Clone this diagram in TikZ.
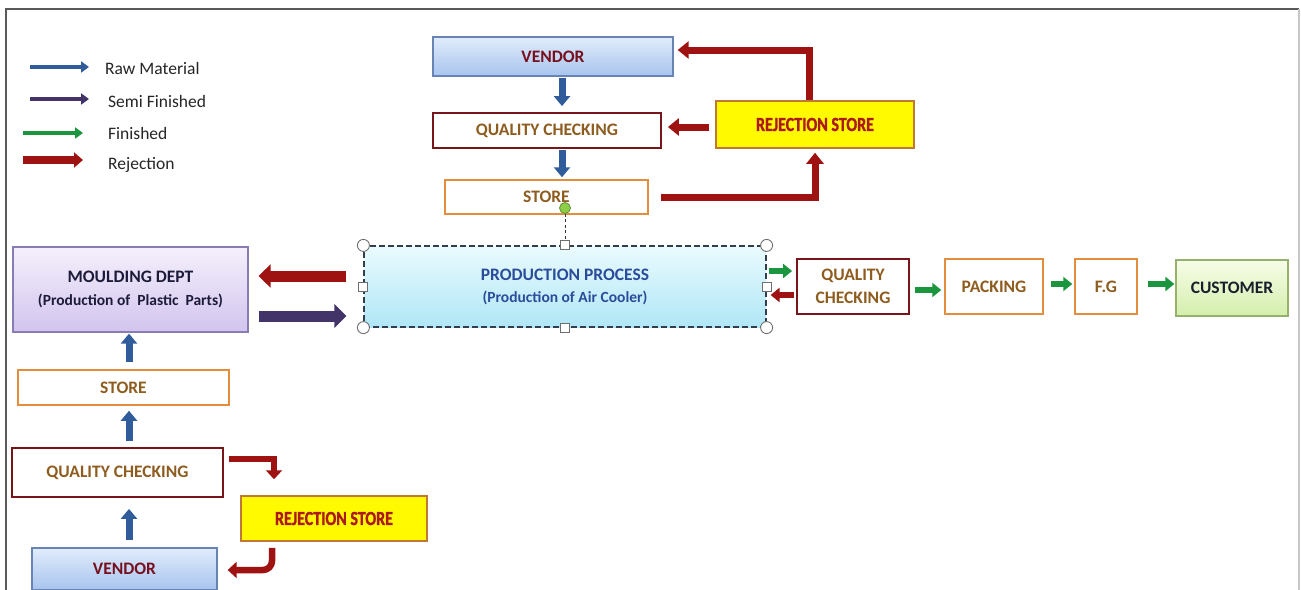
\documentclass[tikz,border=0pt]{standalone}
\usepackage{fontspec}
\setmainfont{Carlito}
\newfontfamily\condfont[FakeStretch=0.8,FakeBold=1.3]{Carlito}
\usetikzlibrary{arrows.meta,backgrounds}
\definecolor{rawblue}{RGB}{48,92,156}
\definecolor{semipurple}{RGB}{66,52,104}
\definecolor{fingreen}{RGB}{28,150,62}
\definecolor{rejred}{RGB}{158,18,18}
\definecolor{vtop}{RGB}{224,236,251}
\definecolor{vbot}{RGB}{168,196,238}
\definecolor{vline}{RGB}{104,132,180}
\definecolor{mtop}{RGB}{245,240,252}
\definecolor{mbot}{RGB}{210,196,238}
\definecolor{mline}{RGB}{136,124,178}
\definecolor{ptop}{RGB}{234,251,254}
\definecolor{pbot}{RGB}{176,230,246}
\definecolor{pline}{RGB}{50,62,78}
\definecolor{ctop}{RGB}{247,253,232}
\definecolor{cbot}{RGB}{212,238,172}
\definecolor{cline}{RGB}{150,178,106}
\definecolor{qcline}{RGB}{118,22,26}
\definecolor{stline}{RGB}{226,142,62}
\definecolor{brtext}{RGB}{142,92,30}
\definecolor{vtext}{RGB}{118,16,30}
\definecolor{rjtext}{RGB}{172,26,26}
\definecolor{rjfill}{RGB}{255,250,0}
\definecolor{navytext}{RGB}{28,28,58}
\definecolor{ptext}{RGB}{42,76,154}
\definecolor{ctext}{RGB}{24,30,44}
\definecolor{handleline}{RGB}{110,110,110}
\definecolor{rotgreen}{RGB}{140,206,72}
\begin{document}
\begin{tikzpicture}[x=1pt,y=-1pt,
  box/.style={draw, inner sep=0pt, align=center, font=\fontsize{17.5}{20}\selectfont\bfseries},
  vendorbox/.style={box, top color=vtop, bottom color=vbot, draw=vline, line width=1.3pt, text=vtext},
  qcbox/.style={box, draw=qcline, fill=white, line width=1.8pt, text=brtext},
  storebox/.style={box, draw=stline, fill=white, line width=1.5pt, text=brtext},
  rejbox/.style={box, draw=stline!85!black, fill=rjfill, line width=1.5pt, text=rjtext, font=\condfont\fontsize{20}{22}\selectfont\bfseries},
  mouldbox/.style={box, top color=mtop, bottom color=mbot, draw=mline, line width=1.3pt, text=navytext},
  prodbox/.style={box, top color=ptop, bottom color=pbot, draw=pline, line width=1.2pt, dash pattern=on 6pt off 3pt, text=ptext},
  custbox/.style={box, top color=ctop, bottom color=cbot, draw=cline, line width=1.3pt, text=ctext},
  hcirc/.style={circle, draw=handleline, fill=white, line width=0.9pt, minimum size=12pt, inner sep=0pt},
  hsq/.style={rectangle, draw=handleline, fill=white, line width=0.9pt, minimum size=9pt, inner sep=0pt},
  rotdot/.style={circle, draw=rotgreen!70!black, fill=rotgreen, line width=0.8pt, minimum size=11pt, inner sep=0pt},
  rawv/.style={draw=rawblue, line width=7pt, -{Triangle[width=16pt,length=10pt]}},
  rejarr/.style={draw=rejred, line width=7pt, -{Triangle[width=17pt,length=11pt]}},
  rejsm/.style={draw=rejred, line width=6.5pt, -{Triangle[width=16pt,length=9pt]}},
  bigarr/.style={line width=11pt, -{Triangle[width=23pt,length=12pt]}},
  finarr/.style={draw=fingreen, line width=6pt, -{Triangle[width=14pt,length=9pt]}},
  legarr/.style={line width=4.5pt, -{Triangle[width=11pt,length=8pt]}},
  legtext/.style={anchor=west, inner sep=0pt, text=black!85, font=\fontsize{17.5}{19}\selectfont}
]
\useasboundingbox (0,0) rectangle (1301,589);
\clip (0,0) rectangle (1301,589);
\fill[white] (0,0) rectangle (1301,589);
% frame
\draw[line width=1.6pt, draw=black!65] (6,600) -- (6,9) -- (1299,9);
\draw[line width=1.2pt, draw=black!22] (1299,9) -- (1299,600);

% helper x positions
\coordinate (xa) at (562,0);
\coordinate (xb) at (555,0);
\coordinate (xc) at (129,0);
\coordinate (xd) at (274,0);
\coordinate (xe) at (272,0);
\coordinate (xg) at (809,0);

% legend
\coordinate (l1a) at (30,67);  \coordinate (l1b) at (89,67);
\coordinate (l2a) at (30,99);  \coordinate (l2b) at (89,99);
\coordinate (l3a) at (23,133); \coordinate (l3b) at (83,133);
\coordinate (l4a) at (23,160); \coordinate (l4b) at (83,160);
\draw[legarr, draw=rawblue] (l1a) -- (l1b);
\draw[legarr, draw=semipurple] (l2a) -- (l2b);
\draw[legarr, draw=fingreen] (l3a) -- (l3b);
\draw[draw=rejred, line width=8pt, -{Triangle[width=15pt,length=9pt]}] (l4a) -- (l4b);
\node[legtext] (t1) at (105,68) {Raw Material};
\node[legtext] (t2) at (108,101) {Semi Finished};
\node[legtext] (t3) at (108,133) {Finished};
\node[legtext] (t4) at (108,165) {Rejection};

% top chain
\node[vendorbox, minimum width=240pt, minimum height=39pt] (vendorT) at (553,56.5) {VENDOR};
\node[qcbox, minimum width=228pt, minimum height=35pt] (qcT) at (547,130.5) {QUALITY CHECKING};
\node[storebox, minimum width=203pt, minimum height=34pt] (storeT) at (546.5,197) {STORE};
\node[rejbox, minimum width=198pt, minimum height=47pt] (rejT) at (815,124.5) {REJECTION STORE};

\draw[rawv, shorten <=1pt, shorten >=6pt] (vendorT.south -| xa) -- (qcT.north -| xa);
\draw[rawv, shorten <=1pt, shorten >=2pt] (qcT.south -| xa) -- (storeT.north -| xa);
\draw[rejarr, shorten <=6pt, shorten >=6pt] ([yshift=-2.5pt]rejT.west) -- ([yshift=3.5pt]qcT.east);
\draw[rejarr] ([xshift=12pt]storeT.east) -| ([yshift=-4pt]rejT.south);
\draw[rejarr] (rejT.north -| xg) |- ([xshift=4pt,yshift=6.5pt]vendorT.east);

% production
\node[prodbox, minimum width=402pt, minimum height=81pt] (prod) at (565,286.5)
  {PRODUCTION PROCESS\\[2pt]{\fontsize{15.5}{17}\selectfont(Production of Air Cooler)}};
\begin{scope}[on background layer]
\draw[rawv, shorten <=5pt, shorten >=-8pt] (storeT.south -| xb) -- (prod.north -| xb);
\end{scope}

% moulding
\node[mouldbox, minimum width=235pt, minimum height=85pt] (mould) at (130.5,289.5)
  {MOULDING DEPT\\[3pt]{\fontsize{15.5}{17}\selectfont(Production of\ \ Plastic\ \ Parts)}};
\draw[bigarr, draw=rejred] ([xshift=-17pt,yshift=10.5pt]prod.west) -- ([xshift=10pt,yshift=13.5pt]mould.east);
\draw[bigarr, draw=semipurple] ([xshift=10pt,yshift=-26.5pt]mould.east) -- ([xshift=-17pt,yshift=-29.5pt]prod.west);

% left chain
\node[storebox, minimum width=211pt, minimum height=35pt] (storeL) at (123.5,387.5) {STORE};
\node[qcbox, minimum width=211pt, minimum height=49pt] (qcL) at (117.5,472.5) {QUALITY CHECKING};
\node[vendorbox, minimum width=185pt, minimum height=42pt] (vendorL) at (124.5,569) {VENDOR};
\node[rejbox, minimum width=186pt, minimum height=45pt] (rejL) at (334,518.5) {REJECTION STORE};

\draw[rawv, shorten <=7pt, shorten >=1pt] (storeL.north -| xc) -- (mould.south -| xc);
\draw[rawv, shorten <=6pt, shorten >=5pt] (qcL.north -| xc) -- (storeL.south -| xc);
\draw[rawv, shorten <=7pt, shorten >=11pt] (vendorL.north -| xc) -- (qcL.south -| xc);
\draw[rejsm] ([xshift=5pt,yshift=13.5pt]qcL.east) -| ([yshift=16pt]rejL.north -| xd);
\draw[rejsm, rounded corners=9pt] ([yshift=-6pt]rejL.south -| xe) |- ([xshift=10pt,yshift=-1pt]vendorL.east);

% handles of production box
\foreach \a/\n in {north west/c1, north east/c2, south west/c3, south east/c4}
  \node[hcirc] (\n) at (prod.\a) {};
\foreach \a/\n in {north/s1, south/s2, west/s3, east/s4}
  \node[hsq] (\n) at (prod.\a) {};
\node[rotdot] (rot) at (565,208) {};
\draw[line width=1pt, draw=black!80, dash pattern=on 3pt off 2.5pt] (rot) -- (s1);

% right chain
\node[qcbox, minimum width=112pt, minimum height=55pt, font=\fontsize{17.5}{23}\selectfont\bfseries] (qcR) at (853,286.5) {QUALITY\\CHECKING};
\node[storebox, minimum width=98pt, minimum height=55pt] (pack) at (994,286.5) {PACKING};
\node[storebox, minimum width=62pt, minimum height=55pt] (fg) at (1106,286.5) {F.G};
\node[custbox, minimum width=112pt, minimum height=56pt] (cust) at (1232,288) {CUSTOMER};

\draw[finarr, shorten <=2pt, shorten >=4pt] ([yshift=15.5pt]prod.east) -- ([yshift=15.5pt]qcR.west);
\draw[draw=rejred, line width=6pt, -{Triangle[width=14pt,length=9pt]}, shorten <=2pt, shorten >=4pt] ([yshift=-8.5pt]qcR.west) -- ([yshift=-8.5pt]prod.east);
\draw[finarr, shorten <=5pt, shorten >=3pt] ([yshift=-3.5pt]qcR.east) -- ([yshift=-3.5pt]pack.west);
\draw[finarr, shorten <=7pt, shorten >=2pt] ([yshift=2.5pt]pack.east) -- ([yshift=2.5pt]fg.west);
\draw[finarr, shorten <=10pt, shorten >=1pt] ([yshift=2.5pt]fg.east) -- ([yshift=4pt]cust.west);
\end{tikzpicture}
\end{document}
